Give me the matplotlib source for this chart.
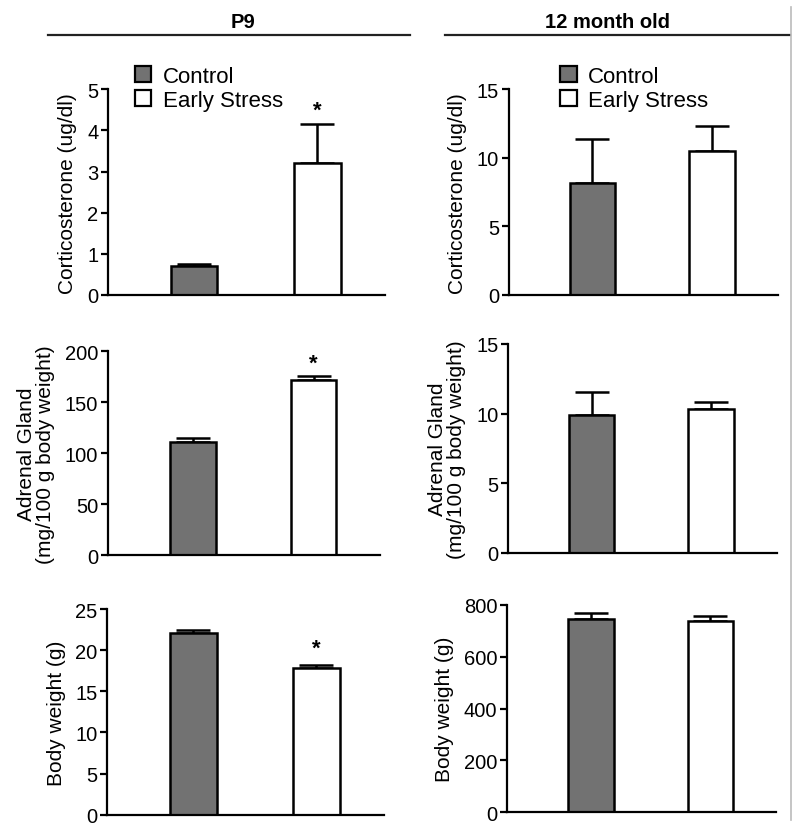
import matplotlib
matplotlib.use("Agg")
import matplotlib.pyplot as plt
from matplotlib.lines import Line2D
from matplotlib.patches import Patch

plt.rcParams["font.family"] = ["Liberation Sans", "DejaVu Sans"]

# Veriler
groups = ["Control", "Early Stress"]
columns = ["P9", "12 month old"]

p9_cort = [0.70, 3.20]
p9_cort_err = [0.05, 0.95]
m12_cort = [8.2, 10.5]
m12_cort_err = [3.2, 1.8]

p9_adrenal = [110.8, 171.6]
p9_adrenal_err = [3.9, 3.9]
m12_adrenal = [9.9, 10.33]
m12_adrenal_err = [1.65, 0.5]

p9_bw = [22.1, 17.8]
p9_bw_err = [0.35, 0.4]
m12_bw = [746, 738]
m12_bw_err = [23, 19]

# yildiz (anlamlilik) konumlari: (bar indeksi, y degeri)
p9_cort_star = (1, 4.5)
p9_adrenal_star = (1, 188)
p9_bw_star = (1, 20.3)

bar_colors = ["#727272", "white"]

panels = [
    # (veri, hata, ylim, yticks, ylabel, yildiz, eksen konumu)
    (p9_cort, p9_cort_err, 5, [0, 1, 2, 3, 4, 5], "Corticosterone (ug/dl)", p9_cort_star,
     [0.135, 0.643, 0.346, 0.248]),
    (m12_cort, m12_cort_err, 15, [0, 5, 10, 15], "Corticosterone (ug/dl)", None,
     [0.636, 0.643, 0.336, 0.248]),
    (p9_adrenal, p9_adrenal_err, 200, [0, 50, 100, 150, 200],
     "Adrenal Gland\n(mg/100 g body weight)", p9_adrenal_star,
     [0.135, 0.329, 0.340, 0.246]),
    (m12_adrenal, m12_adrenal_err, 15, [0, 5, 10, 15],
     "Adrenal Gland\n(mg/100 g body weight)", None,
     [0.635, 0.332, 0.336, 0.252]),
    (p9_bw, p9_bw_err, 25, [0, 5, 10, 15, 20, 25], "Body weight (g)", p9_bw_star,
     [0.134, 0.016, 0.346, 0.248]),
    (m12_bw, m12_bw_err, 800, [0, 200, 400, 600, 800], "Body weight (g)", None,
     [0.634, 0.019, 0.336, 0.250]),
]

fig = plt.figure(figsize=(8, 8.29), dpi=100)

axes = []
for vals, errs, ymax, yticks, ylabel, star, pos in panels:
    ax = fig.add_axes(pos)
    x = list(range(len(groups)))
    ax.errorbar(x, vals, yerr=[[0] * len(errs), errs], fmt="none", ecolor="black",
                elinewidth=1.8, capsize=12, capthick=1.8, zorder=1)
    ax.bar(x, vals, width=0.38, color=bar_colors, edgecolor="black", linewidth=1.8, zorder=2)
    if star is not None:
        ax.text(star[0], star[1], "*", ha="center", va="center", fontsize=16, fontweight="bold")
    ax.set_xlim(-0.7, 1.55)
    ax.set_ylim(0, ymax)
    ax.set_yticks(yticks)
    ax.set_xticks([])
    ax.spines["top"].set_visible(False)
    ax.spines["right"].set_visible(False)
    ax.spines["left"].set_linewidth(1.6)
    ax.spines["bottom"].set_linewidth(1.6)
    ax.tick_params(axis="y", direction="out", length=5, width=1.6, labelsize=14.5, pad=2)
    ax.set_ylabel(ylabel, fontsize=15, labelpad=7, linespacing=1.0)
    axes.append(ax)

# Legendler
handles = [Patch(facecolor=c, edgecolor="black", linewidth=1.6) for c in bar_colors]
for ax, xpos in [(axes[0], 0.149), (axes[1], 0.681)]:
    fig.legend(handles, groups, loc="upper left", bbox_to_anchor=(xpos, 0.9385),
               frameon=False, fontsize=16, handlelength=0.75, handleheight=0.7,
               handletextpad=0.5, labelspacing=0.15, borderpad=0.2)

# Basliklar ve cizgiler
fig.text(0.304, 0.973, columns[0], ha="center", va="center", fontsize=14.5, fontweight="bold")
fig.text(0.759, 0.973, columns[1], ha="center", va="center", fontsize=14.5, fontweight="bold")
fig.add_artist(Line2D([0.06, 0.5125], [0.957, 0.957], color="#222222", lw=1.6))
fig.add_artist(Line2D([0.556, 0.9875], [0.957, 0.957], color="#222222", lw=1.6))
fig.add_artist(Line2D([0.989, 0.989], [0.01, 0.99], color="#bbbbbb", lw=1.2))

fig.savefig("out.png", dpi=100)
plt.close(fig)
